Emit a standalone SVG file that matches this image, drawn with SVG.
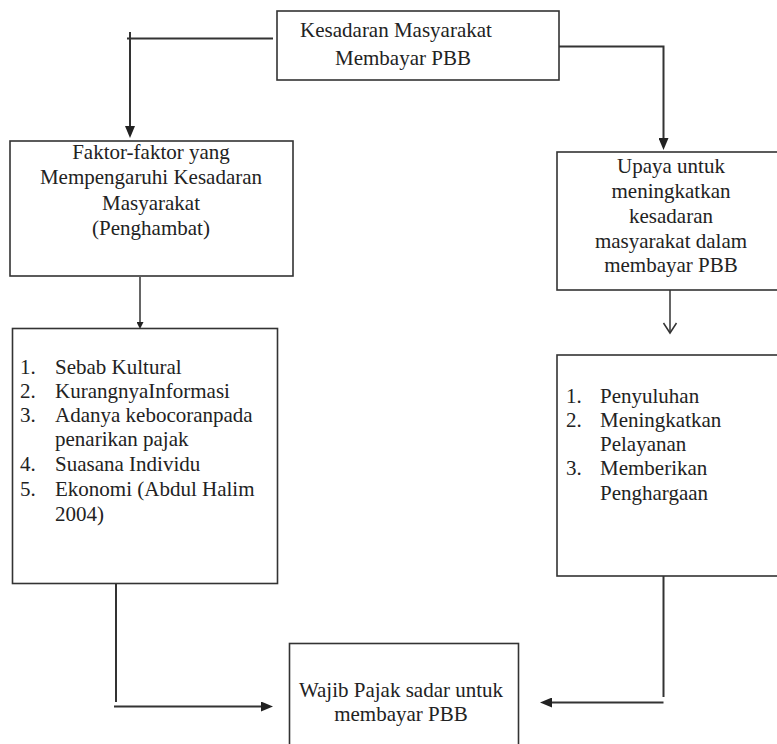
<svg xmlns="http://www.w3.org/2000/svg" width="777" height="744" viewBox="0 0 777 744">
<style>
.box{fill:#fff;stroke:#333;stroke-width:1.6}
.t{font-family:"Liberation Serif","Times New Roman",serif;font-size:21px;fill:#222}
.c{text-anchor:middle}
.ln{fill:none;stroke:#333;stroke-width:2}
.thin{fill:none;stroke:#333;stroke-width:1.5}
</style>
<defs>
<marker id="ah" markerUnits="userSpaceOnUse" viewBox="0 0 12 10" markerWidth="12" markerHeight="10" refX="1" refY="5" orient="auto"><path d="M0,0 L12,5 L0,10 z" fill="#222"/></marker>
<marker id="ahs" markerUnits="userSpaceOnUse" viewBox="0 0 7 7" markerWidth="7" markerHeight="7" refX="1" refY="3.5" orient="auto"><path d="M0,0 L7,3.5 L0,7 z" fill="#222"/></marker>
</defs>
<rect width="777" height="744" fill="#fff"/>
<g id="connectors">
<polyline class="ln" points="273,38.5 127,38.5"/>
<line class="ln" x1="130" y1="32" x2="130" y2="127" marker-end="url(#ah)"/>
<polyline class="ln" points="559,46.5 663.5,46.5 663.5,139" marker-end="url(#ah)"/>
<line class="thin" x1="140" y1="277" x2="140" y2="323" marker-end="url(#ahs)"/>
<line class="thin" x1="670" y1="290" x2="670" y2="333"/>
<polyline class="thin" points="663.5,323 670,333 676.5,323"/>
<line class="ln" x1="116" y1="583" x2="116" y2="702"/>
<line class="ln" x1="114" y1="706.5" x2="262" y2="706.5" marker-end="url(#ah)"/>
<line class="ln" x1="663.5" y1="576" x2="663.5" y2="697"/>
<line class="ln" x1="663.5" y1="702.5" x2="551" y2="702.5" marker-end="url(#ah)"/>
</g>
<g id="kesadaran">
<rect class="box" x="277" y="11" width="282" height="69"/>
<text class="t c" x="396" y="37">Kesadaran Masyarakat</text>
<text class="t c" x="403" y="65">Membayar PBB</text>
</g>
<g id="faktor">
<rect class="box" x="10" y="141" width="283" height="135"/>
<text class="t c" x="151" y="159">Faktor-faktor yang</text>
<text class="t c" x="151" y="184">Mempengaruhi Kesadaran</text>
<text class="t c" x="151" y="210">Masyarakat</text>
<text class="t c" x="151" y="235">(Penghambat)</text>
</g>
<g id="upaya">
<rect class="box" x="557" y="152" width="230" height="138"/>
<text class="t c" x="671" y="173">Upaya untuk</text>
<text class="t c" x="671" y="198">meningkatkan</text>
<text class="t c" x="671" y="223">kesadaran</text>
<text class="t c" x="671" y="248">masyarakat dalam</text>
<text class="t c" x="671" y="272">membayar PBB</text>
</g>
<g id="penghambat-list">
<rect class="box" x="12.5" y="328.5" width="265" height="255"/>
<text class="t" x="20" y="374">1.</text><text class="t" x="55" y="374">Sebab Kultural</text>
<text class="t" x="20" y="398">2.</text><text class="t" x="55" y="398">KurangnyaInformasi</text>
<text class="t" x="20" y="422">3.</text><text class="t" x="55" y="422">Adanya kebocoranpada</text>
<text class="t" x="55" y="446">penarikan pajak</text>
<text class="t" x="20" y="471">4.</text><text class="t" x="55" y="471">Suasana Individu</text>
<text class="t" x="20" y="496">5.</text><text class="t" x="55" y="496">Ekonomi (Abdul Halim</text>
<text class="t" x="55" y="521">2004)</text>
</g>
<g id="upaya-list">
<rect class="box" x="557" y="355" width="230" height="221"/>
<text class="t" x="566" y="403">1.</text><text class="t" x="600" y="403">Penyuluhan</text>
<text class="t" x="566" y="427">2.</text><text class="t" x="600" y="427">Meningkatkan</text>
<text class="t" x="600" y="451">Pelayanan</text>
<text class="t" x="566" y="475">3.</text><text class="t" x="600" y="475">Memberikan</text>
<text class="t" x="600" y="500">Penghargaan</text>
</g>
<g id="wajib-pajak">
<rect class="box" x="289.5" y="643.5" width="229" height="120"/>
<text class="t c" x="401" y="697">Wajib Pajak sadar untuk</text>
<text class="t c" x="401" y="721">membayar PBB</text>
</g>
</svg>
